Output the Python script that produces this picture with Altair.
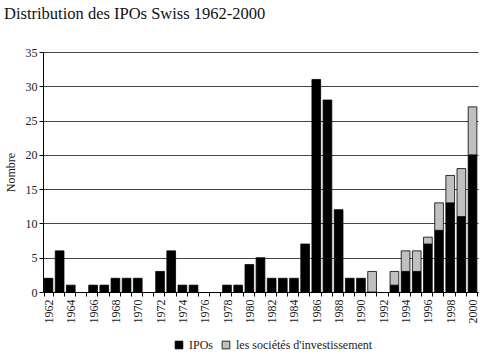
import altair as alt
import pandas as pd

years = list(range(1962, 2001))
ipos = [2, 6, 1, 0, 1, 1, 2, 2, 2, 0,
        3, 6, 1, 1, 0, 0, 1, 1, 4, 5,
        2, 2, 2, 7, 31, 28, 12, 2, 2, 0,
        0, 1, 3, 3, 7, 9, 13, 11, 20]
invest = [0, 0, 0, 0, 0, 0, 0, 0, 0, 0,
          0, 0, 0, 0, 0, 0, 0, 0, 0, 0,
          0, 0, 0, 0, 0, 0, 0, 0, 0, 3,
          0, 2, 3, 3, 1, 4, 4, 7, 7]
series = ["IPOs", "les sociétés d'investissement"]
colors = ["#000000", "#c0c0c0"]

rows = []
for y, a, b in zip(years, ipos, invest):
    rows.append({"annee": str(y), "serie": series[0], "valeur": a, "ordre": 0})
    rows.append({"annee": str(y), "serie": series[1], "valeur": b, "ordre": 1})
df = pd.DataFrame(rows)
df = df[df["valeur"] > 0]

font = "Liberation Serif"

chart = alt.Chart(df).mark_bar(stroke="black", strokeWidth=0.8).encode(
    x=alt.X("annee:N", sort=[str(y) for y in years],
            scale=alt.Scale(domain=[str(y) for y in years], paddingInner=0.22, paddingOuter=0.1),
            axis=alt.Axis(title=None, labelAngle=-90, labelAlign="right", labelBaseline="middle",
                          labelExpr="toNumber(datum.value) % 2 == 0 ? datum.value : ''",
                          labelFont=font, labelFontSize=12, labelColor="#222",
                          tickBand="extent", tickColor="black", domainColor="black",
                          labelPadding=3, tickSize=4)),
    y=alt.Y("valeur:Q", stack="zero",
            scale=alt.Scale(domain=[0, 35], nice=False),
            axis=alt.Axis(title="Nombre", values=list(range(0, 36, 5)),
                          titleFont=font, titleFontSize=12, titleFontWeight="normal", titleColor="#222",
                          titlePadding=8,
                          labelFont=font, labelFontSize=12, labelColor="#222",
                          gridColor="#444", gridWidth=1, domainColor="black",
                          tickColor="black", tickSize=4)),
    color=alt.Color("serie:N", scale=alt.Scale(domain=series, range=colors),
                    legend=alt.Legend(title=None, orient="none", direction="horizontal",
                                      legendX=130, legendY=287,
                                      symbolType="square", symbolStrokeColor="black",
                                      symbolStrokeWidth=0.8, symbolSize=60,
                                      labelFont=font, labelFontSize=12, labelColor="#222",
                                      columnPadding=6, symbolOffset=0)),
    order=alt.Order("ordre:Q"),
).properties(
    width=435, height=240,
    title=alt.TitleParams("Distribution des IPOs Swiss 1962-2000", anchor="start",
                          frame="bounds", offset=24, font=font, fontSize=16.5,
                          fontWeight="normal", color="#111"),
    autosize=alt.AutoSizeParams(type="none"),
    padding={"left": 43, "top": 52, "right": 5, "bottom": 62},
).configure(font=font).configure_axis(labelFont=font, titleFont=font).configure_view(stroke=None)

chart.save("out.html", embed_options={"renderer": "svg", "actions": False})
